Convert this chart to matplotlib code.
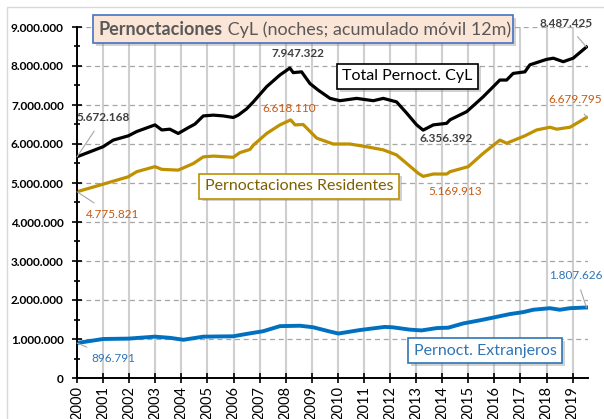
import matplotlib.pyplot as plt
from matplotlib.patches import Rectangle
from matplotlib.ticker import FuncFormatter, MultipleLocator
import matplotlib.patheffects as pe

plt.rcParams['font.family'] = ['Lato', 'DejaVu Sans']

# values (decimal year, millions of nights)
t_total = [2000.0, 2001.0, 2001.39, 2001.97, 2002.29, 2002.99, 2003.25, 2003.56, 2003.88,
           2004.27, 2004.52, 2004.84, 2005.23, 2005.61, 2005.99, 2006.18, 2006.5, 2006.76,
           2007.27, 2007.78, 2008.16, 2008.29, 2008.61, 2008.93, 2009.25, 2009.7, 2010.08,
           2010.72, 2011.36, 2011.74, 2012.25, 2012.64, 2013.02, 2013.27, 2013.66, 2014.17,
           2014.3, 2014.94, 2015.57, 2016.21, 2016.47, 2016.72, 2017.17, 2017.36, 2018.0,
           2018.26, 2018.64, 2019.02, 2019.53]
v_total = [5.672, 5.93, 6.10, 6.21, 6.32, 6.49, 6.36, 6.38, 6.27,
           6.42, 6.51, 6.72, 6.74, 6.72, 6.68, 6.74, 6.90, 7.08,
           7.47, 7.77, 7.947, 7.83, 7.85, 7.55, 7.38, 7.17, 7.11,
           7.17, 7.11, 7.17, 7.08, 6.79, 6.49, 6.356, 6.49, 6.53,
           6.62, 6.83, 7.21, 7.64, 7.64, 7.81, 7.85, 8.03, 8.17,
           8.20, 8.11, 8.20, 8.487]

t_resid = [2000.0, 2001.0, 2001.97, 2002.29, 2002.99, 2003.25, 2003.88, 2004.46, 2004.84,
           2005.23, 2005.99, 2006.25, 2006.63, 2006.76, 2007.27, 2007.78, 2008.19, 2008.36,
           2008.67, 2009.19, 2009.82, 2010.46, 2011.1, 2011.74, 2012.25, 2012.64, 2013.08,
           2013.27, 2013.66, 2014.17, 2014.3, 2015.0, 2015.57, 2016.21, 2016.47, 2017.17,
           2017.62, 2018.13, 2018.39, 2018.9, 2019.53]
v_resid = [4.776, 4.97, 5.16, 5.29, 5.42, 5.35, 5.33, 5.50, 5.67,
           5.69, 5.66, 5.78, 5.86, 5.97, 6.27, 6.49, 6.618, 6.49,
           6.50, 6.15, 6.00, 6.00, 5.93, 5.85, 5.72, 5.50, 5.25,
           5.170, 5.23, 5.23, 5.29, 5.42, 5.76, 6.10, 6.02, 6.21,
           6.36, 6.43, 6.38, 6.43, 6.680]

t_extr = [2000.0, 2001.0, 2001.97, 2002.99, 2003.56, 2004.08, 2004.84, 2005.99, 2006.5,
          2007.14, 2007.78, 2008.55, 2009.06, 2009.7, 2010.02, 2010.85, 2011.8, 2012.1,
          2012.76, 2013.21, 2013.79, 2014.23, 2014.81, 2015.45, 2015.96, 2016.6, 2017.11,
          2017.49, 2018.13, 2018.51, 2018.9, 2019.53]
v_extr = [0.897, 1.00, 1.01, 1.06, 1.03, 0.98, 1.06, 1.07, 1.13,
          1.20, 1.33, 1.34, 1.30, 1.19, 1.14, 1.23, 1.31, 1.30,
          1.24, 1.22, 1.28, 1.29, 1.40, 1.48, 1.55, 1.64, 1.69,
          1.75, 1.79, 1.75, 1.79, 1.808]

years = list(range(2000, 2020))

W, H = 604, 419
fig = plt.figure(figsize=(W / 100, H / 100), dpi=100)
fig.patches.append(Rectangle((7 / W, -0.05), 1.0, 1.05 - 7 / H, transform=fig.transFigure,
                             fill=False, edgecolor='#D9D9D9', linewidth=1))
ax = fig.add_axes([77 / W, 41 / H, 510.5 / W, 351 / H])

ax.plot(t_total, [v * 1e6 for v in v_total], color='black', lw=2.3, zorder=3)
ax.plot(t_resid, [v * 1e6 for v in v_resid], color='#BF9000', lw=2.3, zorder=3)
ax.plot(t_extr, [v * 1e6 for v in v_extr], color='#0070C0', lw=2.8, zorder=3)

ax.set_xlim(2000, 2019.57)
ax.set_ylim(0, 9e6)
ax.set_xticks(years)
ax.set_xticklabels([str(y) for y in years], rotation=90, fontsize=10.5)
ax.yaxis.set_major_locator(MultipleLocator(1e6))
ax.yaxis.set_minor_locator(MultipleLocator(5e5))
ax.yaxis.set_major_formatter(FuncFormatter(lambda v, p: f'{int(v):,}'.replace(',', '.')))
for lab in ax.get_yticklabels():
    lab.set_fontweight('bold')
ax.tick_params(axis='y', labelsize=8.5, direction='inout', length=7, width=1.2, pad=6)
ax.tick_params(axis='y', which='minor', direction='inout', length=5, width=1.2)
ax.tick_params(axis='x', direction='inout', length=7, width=1.2, pad=2)

for s in ['top', 'right']:
    ax.spines[s].set_visible(False)
for s in ['left', 'bottom']:
    ax.spines[s].set_linewidth(1.4)
    ax.spines[s].set_zorder(4)

for y in years[1:]:
    ax.axvline(y, color='#CFCFCF', lw=1.5, zorder=1)
for v in range(1, 10):
    ax.axhline(v * 1e6, color='#A6A6A6', lw=0.9, ls=(0, (4, 3)), zorder=1)

shadow = [pe.SimplePatchShadow(offset=(2, -2), shadow_rgbFace='#808080', alpha=0.35), pe.Normal()]

# title box
title_box = Rectangle((93 / W, 1 - 43 / H), 420 / W, 28 / H, transform=fig.transFigure,
                      fc='#FBE5D6', ec='#4472C4', lw=1.2, zorder=5)
title_box.set_path_effects(shadow)
fig.patches.append(title_box)
r = fig.canvas.get_renderer()
t1 = fig.text(99 / W, 1 - 29.5 / H, 'Pernoctaciones', fontsize=13, fontweight='bold',
              color='#595959', va='center', ha='left', zorder=6)
bb = t1.get_window_extent(r)
fig.text(bb.x1 / fig.bbox.width, 1 - 29.5 / H, ' CyL (noches; acumulado móvil 12m)', fontsize=13,
         color='#595959', va='center', ha='left', zorder=6)

# series labels
def box_label(x, y, txt, tc, ec):
    t = ax.text(x, y, txt, fontsize=11.5, color=tc, ha='center', va='center', zorder=6,
                bbox=dict(boxstyle='square,pad=0.35', fc='white', ec=ec, lw=1.2))
    t.get_bbox_patch().set_path_effects(shadow)

box_label(2012.67, 7.74e6, 'Total Pernoct. CyL', 'black', 'black')
box_label(2008.51, 4.92e6, 'Pernoctaciones Residentes', '#7F6000', '#BF9000')
box_label(2015.64, 0.70e6, 'Pernoct. Extranjeros', '#2E75B6', '#2E75B6')

# value annotations
grey = '#404040'
orange = '#C55A11'
blue = '#2E75B6'
def note(xy, xytext, txt, color, bold=False, line=True):
    ax.annotate(txt, xy=xy, xytext=xytext, fontsize=8.5, color=color,
                fontweight='bold' if bold else 'normal', ha='center', va='center', zorder=6,
                annotation_clip=False,
                arrowprops=dict(arrowstyle='-', color='#A6A6A6', lw=0.8, shrinkA=5, shrinkB=0)
                if line else None)

note((t_total[0], v_total[0] * 1e6), (2001.02, 6.69e6), '5.672.168', grey, True)
note((t_total[20], v_total[20] * 1e6), (2008.47, 8.33e6), '7.947.322', grey, True, False)
note((t_total[-1], v_total[-1] * 1e6), (2018.74, 9.10e6), '8.487.425', grey, True)
note((t_total[33], v_total[33] * 1e6), (2014.14, 6.13e6), '6.356.392', grey, True, False)
note((t_resid[16], v_resid[16] * 1e6), (2008.15, 6.90e6), '6.618.110', orange, False, False)
note((t_resid[-1], v_resid[-1] * 1e6), (2019.09, 7.13e6), '6.679.795', orange)
note((t_resid[27], v_resid[27] * 1e6), (2014.5, 4.77e6), '5.169.913', orange, False, False)
note((t_resid[0], v_resid[0] * 1e6), (2001.36, 4.18e6), '4.775.821', orange)
note((t_extr[0], v_extr[0] * 1e6), (2001.38, 0.51e6), '896.791', blue)
note((t_extr[-1], v_extr[-1] * 1e6), (2019.12, 2.64e6), '1.807.626', blue)

fig.savefig('out.png', dpi=100)
